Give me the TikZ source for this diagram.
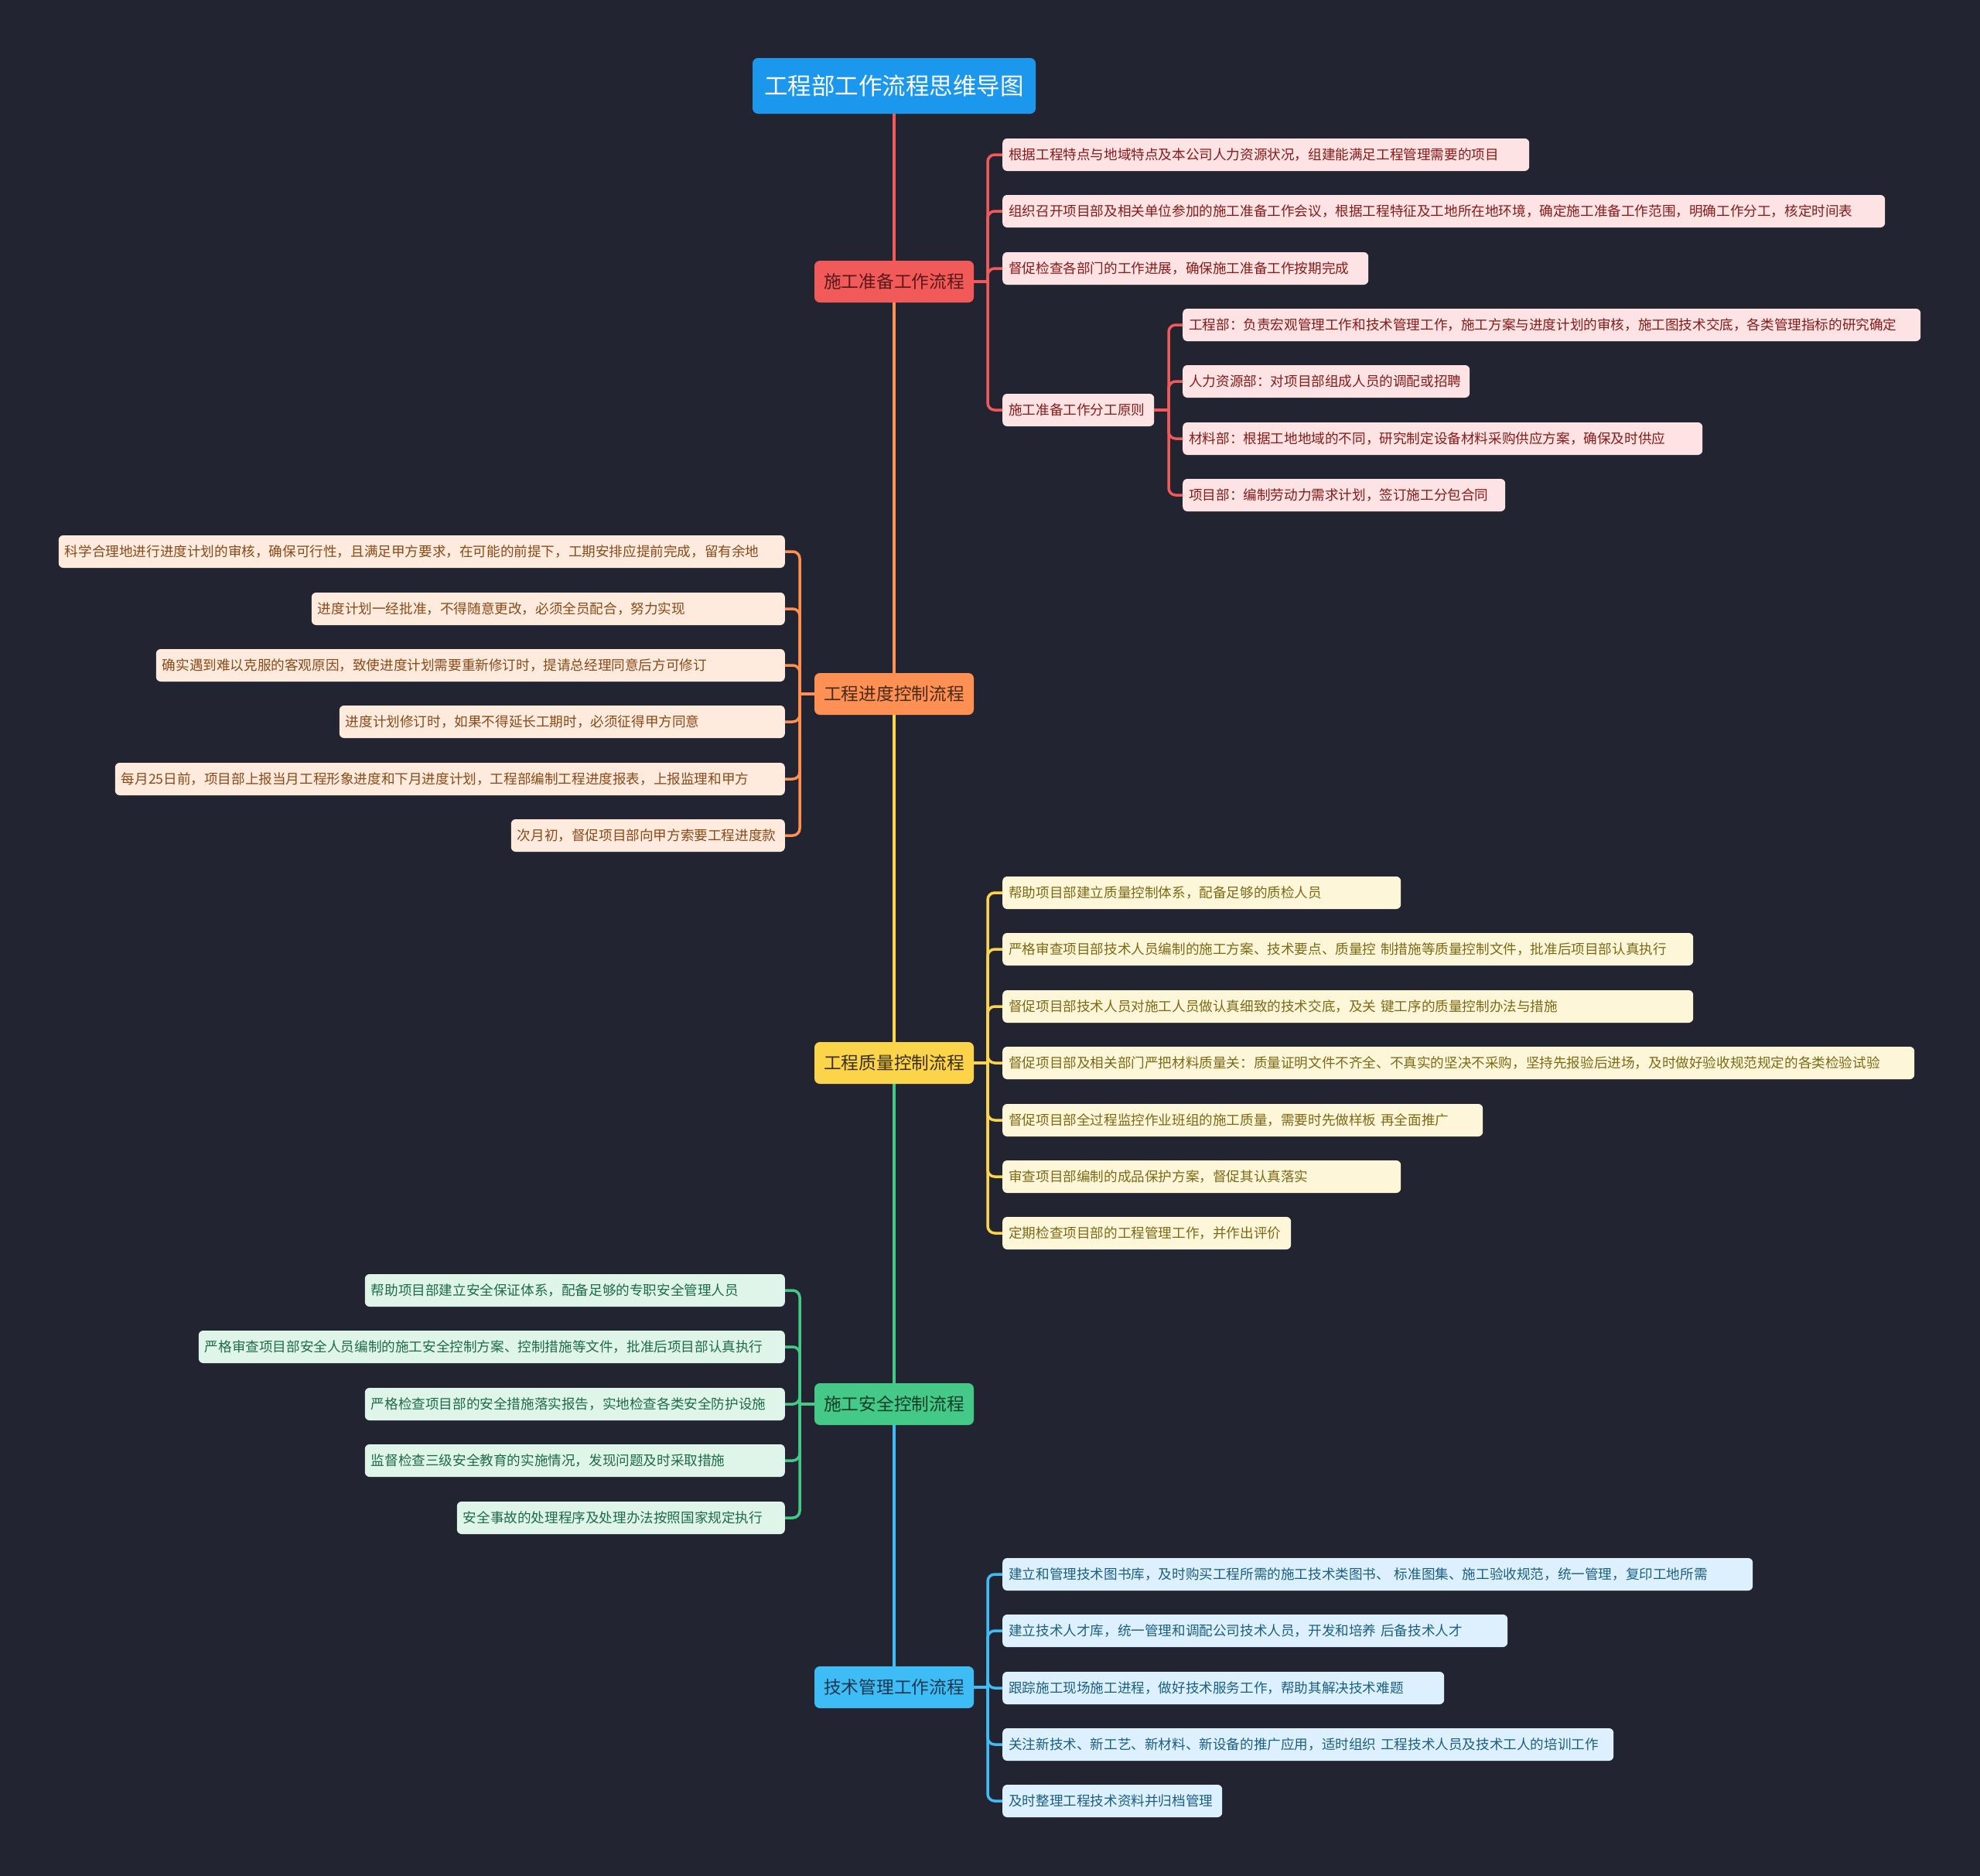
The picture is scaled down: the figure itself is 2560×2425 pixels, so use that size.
\documentclass[tikz,border=0pt]{standalone}
\usepackage{fontspec}
\setmainfont{Noto Sans CJK SC}
\newcommand\mytx[1]{\mbox{#1}}
\definecolor{bgc}{HTML}{222531}
\definecolor{rootc}{HTML}{1B98EE}
\definecolor{ca}{HTML}{F25A5A}
\definecolor{cb}{HTML}{FD9052}
\definecolor{cc}{HTML}{FCD44A}
\definecolor{cd}{HTML}{45C988}
\definecolor{ce}{HTML}{3EBCF6}
\definecolor{ta}{HTML}{561818}
\definecolor{tb}{HTML}{4A2A10}
\definecolor{tc}{HTML}{3A3010}
\definecolor{td}{HTML}{123D28}
\definecolor{te}{HTML}{17384F}
\definecolor{fa}{HTML}{FDE3E3}
\definecolor{fb}{HTML}{FEEBDD}
\definecolor{fc}{HTML}{FDF6D9}
\definecolor{fd}{HTML}{DFF5E9}
\definecolor{fe}{HTML}{DCF1FD}
\definecolor{la}{HTML}{8B1A1A}
\definecolor{lb}{HTML}{8B4A1A}
\definecolor{lc}{HTML}{7D6A17}
\definecolor{ld}{HTML}{1E6B47}
\definecolor{le}{HTML}{1D5E85}
\begin{document}
\begin{tikzpicture}[x=1pt,y=-1pt,
  rootbox/.style={fill=rootc, rounded corners=7pt, minimum width=366pt, minimum height=72pt, inner sep=0pt, text=white, font=\fontsize{30.5}{34}\selectfont},
  brbox/.style={fill=#1, rounded corners=7pt, minimum width=206pt, minimum height=54pt, inner sep=0pt, font=\fontsize{22.7}{26}\selectfont},
  leaf/.style={rounded corners=6pt, minimum height=42pt, inner xsep=8pt, inner ysep=0pt, align=left, font=\fontsize{17.6}{20}\selectfont},
  wd/.style={text width=#1pt-16pt},
  lfa/.style={leaf, fill=fa, text=la},
  lfb/.style={leaf, fill=fb, text=lb},
  lfc/.style={leaf, fill=fc, text=lc},
  lfd/.style={leaf, fill=fd, text=ld},
  lfe/.style={leaf, fill=fe, text=le},
  trunk/.style={draw=#1, line width=3.5pt},
  conn/.style={draw=#1, line width=3.5pt, rounded corners=9pt}
]
\fill[bgc] (0,0) rectangle (2560,2425);
\useasboundingbox (0,0) rectangle (2560,2425);

% root and branches
\node[rootbox] (root) at (1156,111) {工程部工作流程思维导图};
\node[brbox=ca, text=ta] (b1) at (1156,364) {施工准备工作流程};
\node[brbox=cb, text=tb] (b2) at (1156,897) {工程进度控制流程};
\node[brbox=cc, text=tc] (b3) at (1156,1374) {工程质量控制流程};
\node[brbox=cd, text=td] (b4) at (1156,1815) {施工安全控制流程};
\node[brbox=ce, text=te] (b5) at (1156,2181) {技术管理工作流程};

\draw[trunk=ca] (root.south) -- (b1.north);
\draw[trunk=cb] (b1.south) -- (b2.north);
\draw[trunk=cc] (b2.south) -- (b3.north);
\draw[trunk=cd] (b3.south) -- (b4.north);
\draw[trunk=ce] (b4.south) -- (b5.north);

% branch 1
\node[lfa, wd=681, anchor=west] (c11) at (1296,200) {\mytx{根据工程特点与地域特点及本公司人力资源状况，组建能满足工程管理需要的项目}};
\node[lfa, wd=1141, anchor=west] (c12) at (1296,273) {\mytx{组织召开项目部及相关单位参加的施工准备工作会议，根据工程特征及工地所在地环境，确定施工准备工作范围，明确工作分工，核定时间表}};
\node[lfa, wd=473, anchor=west] (c13) at (1296,347) {\mytx{督促检查各部门的工作进展，确保施工准备工作按期完成}};
\node[lfa, wd=196, anchor=west] (c14) at (1296,530) {\mytx{施工准备工作分工原则}};
\node[lfa, wd=954, anchor=west] (c141) at (1529,420) {\mytx{工程部：负责宏观管理工作和技术管理工作，施工方案与进度计划的审核，施工图技术交底，各类管理指标的研究确定}};
\node[lfa, wd=371, anchor=west] (c142) at (1529,493) {\mytx{人力资源部：对项目部组成人员的调配或招聘}};
\node[lfa, wd=672, anchor=west] (c143) at (1529,567) {\mytx{材料部：根据工地地域的不同，研究制定设备材料采购供应方案，确保及时供应}};
\node[lfa, wd=417, anchor=west] (c144) at (1529,640) {\mytx{项目部：编制劳动力需求计划，签订施工分包合同}};
\coordinate (k1) at (1277,364);
\coordinate (k14) at (1511,530);
\draw[conn=ca] (b1.east) -- (k1);
\foreach \n in {c11,c12,c13,c14} \draw[conn=ca] (k1) |- (\n.west);
\draw[conn=ca] (c14.east) -- (k14);
\foreach \n in {c141,c142,c143,c144} \draw[conn=ca] (k14) |- (\n.west);

% branch 2
\node[lfb, wd=939, anchor=east] (c21) at (1015,713) {\mytx{科学合理地进行进度计划的审核，确保可行性，且满足甲方要求，在可能的前提下，工期安排应提前完成，留有余地}};
\node[lfb, wd=612, anchor=east] (c22) at (1015,787) {\mytx{进度计划一经批准，不得随意更改，必须全员配合，努力实现}};
\node[lfb, wd=813, anchor=east] (c23) at (1015,860) {\mytx{确实遇到难以克服的客观原因，致使进度计划需要重新修订时，提请总经理同意后方可修订}};
\node[lfb, wd=576, anchor=east] (c24) at (1015,933) {\mytx{进度计划修订时，如果不得延长工期时，必须征得甲方同意}};
\node[lfb, wd=866, anchor=east] (c25) at (1015,1007) {\mytx{每月25日前，项目部上报当月工程形象进度和下月进度计划，工程部编制工程进度报表，上报监理和甲方}};
\node[lfb, wd=354, anchor=east] (c26) at (1015,1080) {\mytx{次月初，督促项目部向甲方索要工程进度款}};
\coordinate (k2) at (1034,897);
\draw[conn=cb] (b2.west) -- (k2);
\foreach \n in {c21,c22,c23,c24,c25,c26} \draw[conn=cb] (k2) |- (\n.east);

% branch 3
\node[lfc, wd=515, anchor=west] (c31) at (1296,1154) {\mytx{帮助项目部建立质量控制体系，配备足够的质检人员}};
\node[lfc, wd=893, anchor=west] (c32) at (1296,1227) {\mytx{严格审查项目部技术人员编制的施工方案、技术要点、质量控 制措施等质量控制文件，批准后项目部认真执行}};
\node[lfc, wd=893, anchor=west] (c33) at (1296,1301) {\mytx{督促项目部技术人员对施工人员做认真细致的技术交底，及关 键工序的质量控制办法与措施}};
\node[lfc, wd=1179, anchor=west] (c34) at (1296,1374) {\mytx{督促项目部及相关部门严把材料质量关：质量证明文件不齐全、不真实的坚决不采购，坚持先报验后进场，及时做好验收规范规定的各类检验试验}};
\node[lfc, wd=621, anchor=west] (c35) at (1296,1448) {\mytx{督促项目部全过程监控作业班组的施工质量，需要时先做样板 再全面推广}};
\node[lfc, wd=515, anchor=west] (c36) at (1296,1521) {\mytx{审查项目部编制的成品保护方案，督促其认真落实}};
\node[lfc, wd=373, anchor=west] (c37) at (1296,1594) {\mytx{定期检查项目部的工程管理工作，并作出评价}};
\coordinate (k3) at (1277,1374);
\draw[conn=cc] (b3.east) -- (k3);
\foreach \n in {c31,c32,c33,c34,c35,c36,c37} \draw[conn=cc] (k3) |- (\n.west);

% branch 4
\node[lfd, wd=543, anchor=east] (c41) at (1015,1668) {\mytx{帮助项目部建立安全保证体系，配备足够的专职安全管理人员}};
\node[lfd, wd=758, anchor=east] (c42) at (1015,1741) {\mytx{严格审查项目部安全人员编制的施工安全控制方案、控制措施等文件，批准后项目部认真执行}};
\node[lfd, wd=543, anchor=east] (c43) at (1015,1815) {\mytx{严格检查项目部的安全措施落实报告，实地检查各类安全防护设施}};
\node[lfd, wd=543, anchor=east] (c44) at (1015,1888) {\mytx{监督检查三级安全教育的实施情况，发现问题及时采取措施}};
\node[lfd, wd=424, anchor=east] (c45) at (1015,1962) {\mytx{安全事故的处理程序及处理办法按照国家规定执行}};
\coordinate (k4) at (1034,1815);
\draw[conn=cd] (b4.west) -- (k4);
\foreach \n in {c41,c42,c43,c44,c45} \draw[conn=cd] (k4) |- (\n.east);

% branch 5
\node[lfe, wd=970, anchor=west] (c51) at (1296,2035) {\mytx{建立和管理技术图书库，及时购买工程所需的施工技术类图书、 标准图集、施工验收规范，统一管理，复印工地所需}};
\node[lfe, wd=653, anchor=west] (c52) at (1296,2108) {\mytx{建立技术人才库，统一管理和调配公司技术人员，开发和培养 后备技术人才}};
\node[lfe, wd=571, anchor=west] (c53) at (1296,2182) {\mytx{跟踪施工现场施工进程，做好技术服务工作，帮助其解决技术难题}};
\node[lfe, wd=790, anchor=west] (c54) at (1296,2255) {\mytx{关注新技术、新工艺、新材料、新设备的推广应用，适时组织 工程技术人员及技术工人的培训工作}};
\node[lfe, wd=284, anchor=west] (c55) at (1296,2328) {\mytx{及时整理工程技术资料并归档管理}};
\coordinate (k5) at (1277,2181);
\draw[conn=ce] (b5.east) -- (k5);
\foreach \n in {c51,c52,c53,c54,c55} \draw[conn=ce] (k5) |- (\n.west);
\end{tikzpicture}
\end{document}
